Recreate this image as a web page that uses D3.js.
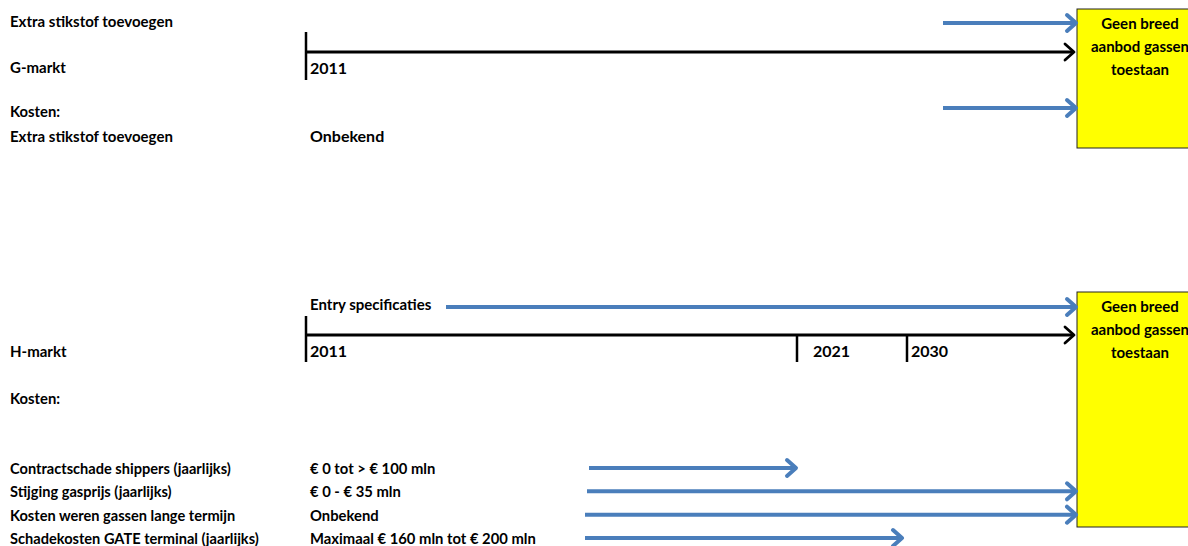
<!DOCTYPE html>
<html><head><meta charset="utf-8">
<script src="https://cdn.jsdelivr.net/npm/d3@7"></script>
<style>
html,body{margin:0;padding:0;background:#fff;overflow:hidden}
svg text{font-family:Lato,"Open Sans",sans-serif;font-weight:700;fill:#000}
</style></head>
<body><svg id="c" width="1188" height="546"></svg>
<script>
// ---- data ----
const timelineYears = [2011, 2021, 2030];
const gMarketTicks = [2011];
const hMarketTicks = [2011, 2021, 2030];
const gTopLabel = "Extra stikstof toevoegen";
const gCostLabels = ["Extra stikstof toevoegen"];
const gCostValues = ["Onbekend"];
const hTopLabel = "Entry specificaties";
const costLabels = ["Contractschade shippers (jaarlijks)", "Stijging gasprijs (jaarlijks)", "Kosten weren gassen lange termijn", "Schadekosten GATE terminal (jaarlijks)"];
const costValues = ["€ 0 tot > € 100 mln", "€ 0 - € 35 mln", "Onbekend", "Maximaal € 160 mln tot € 200 mln"];
const costEnds = [2021, "eind", "eind", 2030];
const boxLines = ["Geen breed", "aanbod gassen", "toestaan"];

// ---- layout ----
const svg = d3.select("#c");
const blue = "#4a7ebb";
const x = d3.scaleLinear().domain([2011, 2021, 2030, 2039.1]).range([306, 797, 907, 1077]);
const xEnd = v => v === "eind" ? x(2039.1) : x(v) - (v === 2030 ? 4 : 0);
const boxX = x(2039.1);

function arrow(x1, x2, y, color, w) {
  const g = svg.append("g").attr("stroke", color).attr("stroke-width", w).attr("fill", "none").attr("stroke-linecap", "round").attr("stroke-linejoin", "round");
  g.append("line").attr("x1", x1).attr("x2", x2 - 1).attr("y1", y).attr("y2", y).attr("stroke-linecap","butt");
  g.append("path").attr("d", `M${x2 - 10},${y - 8}L${x2 - 1},${y}L${x2 - 10},${y + 8}`);
}
function label(t, xx, yy, size, anchor) {
  svg.append("text").attr("x", xx).attr("y", yy).attr("font-size", size || 14.8).attr("text-anchor", anchor || "start").text(t);
}
function box(top, bottom) {
  svg.append("rect").attr("x", boxX).attr("y", top).attr("width", 130).attr("height", bottom - top)
    .attr("fill", "#ffff00").attr("stroke", "#222").attr("stroke-width", 1);
  boxLines.forEach((t, i) => label(t, 1140, top + 20 + i * 23, 15, "middle"));
}
function timeline(y, top, ticks, tickBottom) {
  svg.append("line").attr("x1", x(2011)).attr("x2", x(2011)).attr("y1", top).attr("y2", tickBottom).attr("stroke", "#000").attr("stroke-width", 2.5);
  ticks.filter(d => d !== 2011).forEach(d => {
    svg.append("line").attr("x1", x(d)).attr("x2", x(d)).attr("y1", y).attr("y2", tickBottom).attr("stroke", "#000").attr("stroke-width", 2.5);
  });
  ticks.forEach(d => label(String(d), x(d) + (d === 2021 ? 16 : 4), y + 22, 16));
  arrow(x(2011), boxX - 2, y, "#000", 2.8);
}

// ---- G-markt ----
box(9, 148);
label(gTopLabel, 10, 27, 15);
label("G-markt", 10, 73, 15);
label("Kosten:", 10, 117);
gCostLabels.forEach((t, i) => label(t, 10, 142 + i * 24, 15));
gCostValues.forEach((t, i) => label(t, 310, 142 + i * 24, 16));
arrow(943, boxX, 23, blue, 4);
timeline(52, 32, gMarketTicks, 80);
arrow(943, boxX, 108, blue, 4);

// ---- H-markt ----
box(292, 527);
label(hTopLabel, 310, 310, 15);
arrow(446, boxX, 307, blue, 4);
timeline(335, 316, hMarketTicks, 362);
label("H-markt", 10, 357, 15);
label("Kosten:", 10, 404);
const rowY = d3.scalePoint().domain(d3.range(costLabels.length)).range([474, 544]);
costLabels.forEach((t, i) => label(t, 10, rowY(i), 14.6));
costValues.forEach((t, i) => label(t, 310, rowY(i), 14.8));
const starts = [589, 587, 585, 585];
costEnds.forEach((e, i) => arrow(starts[i], xEnd(e), rowY(i) - 6, blue, 4));
</script></body></html>
